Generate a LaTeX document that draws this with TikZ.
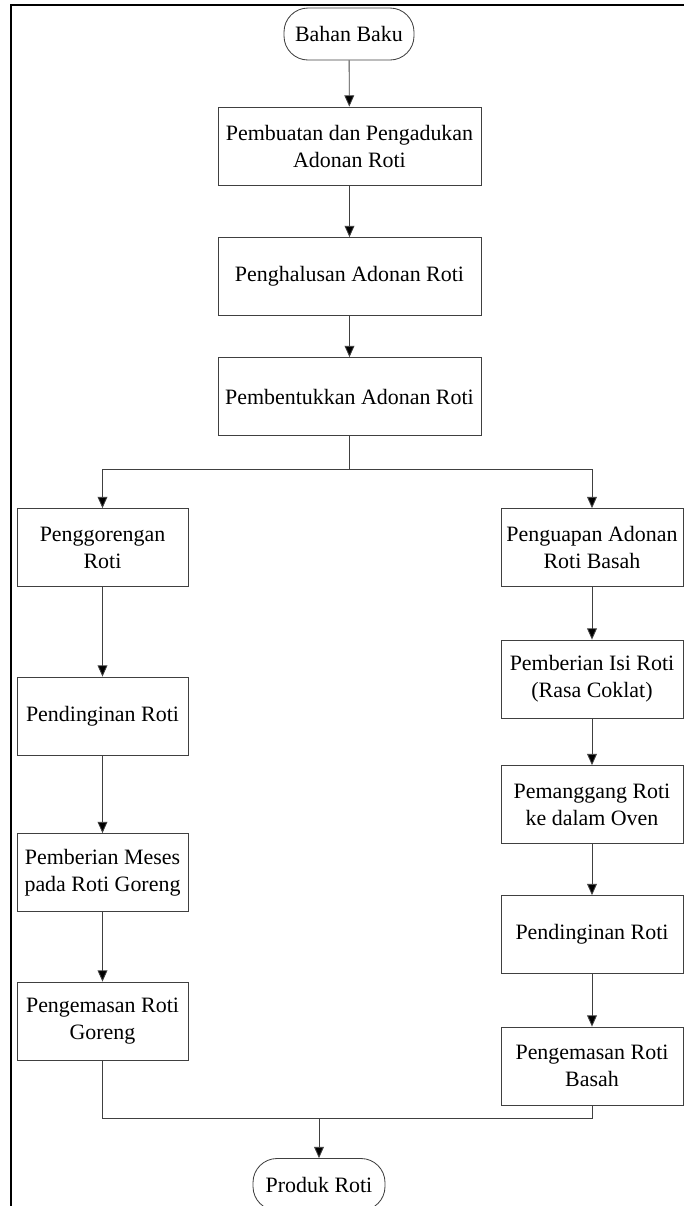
\documentclass[tikz,border=0pt]{standalone}
\usepackage{fontspec}
\setmainfont{Liberation Serif}
\usepackage{xcolor}
\usepackage{tikz}
\usetikzlibrary{arrows.meta,positioning,calc}

\begin{document}
\begin{tikzpicture}[scale=1.0,
    proses/.style={draw=black!75,line width=0.6pt,rectangle,align=center,
      inner sep=0pt,font=\fontsize{15.6}{19.2}\selectfont},
    ujung/.style={draw=black!75,line width=0.6pt,rounded corners=0.6cm,
      align=center,inner sep=0pt,minimum height=1.3cm,
      font=\fontsize{15.6}{19.2}\selectfont},
    panah/.style={draw=black!75,line width=0.6pt,
      -{Triangle[length=8pt,width=7pt,fill=black]}},
    garis/.style={draw=black!75,line width=0.6pt}]
  \useasboundingbox (0,0) rectangle (17.1,-30.15);
  \draw[line width=1.4pt] (0.275,-30.3)--(0.275,-0.125)--(17.2,-0.125);

  \node[ujung,minimum width=3.25cm] (bahan) at (8.725,-0.85) {Bahan Baku};
  \node[proses,minimum width=6.575cm,minimum height=1.95cm] (buat) at (8.7375,-3.65)
    {Pembuatan dan Pengadukan\\Adonan Roti};
  \node[proses,minimum width=6.575cm,minimum height=1.95cm] (halus) at (8.7375,-6.9125)
    {Penghalusan Adonan Roti};
  \node[proses,minimum width=6.575cm,minimum height=1.95cm] (bentuk) at (8.7375,-9.9125)
    {Pembentukkan Adonan Roti};
  \coordinate (cabang) at (8.7375,-11.725);

  \node[proses,minimum width=4.275cm,minimum height=1.95cm] (goreng) at (2.5625,-13.6875)
    {Penggorengan\\Roti};
  \node[proses,minimum width=4.275cm,minimum height=1.95cm] (dinginA) at (2.5625,-17.9)
    {Pendinginan Roti};
  \node[proses,minimum width=4.275cm,minimum height=1.95cm] (meses) at (2.5625,-21.8125)
    {Pemberian Meses\\pada Roti Goreng};
  \node[proses,minimum width=4.275cm,minimum height=1.95cm] (kemasA) at (2.5625,-25.525)
    {Pengemasan Roti\\Goreng};

  \node[proses,minimum width=4.55cm,minimum height=1.95cm] (uap) at (14.8,-13.6875)
    {Penguapan Adonan\\Roti Basah};
  \node[proses,minimum width=4.55cm,minimum height=1.95cm] (isi) at (14.8,-16.975)
    {Pemberian Isi Roti\\(Rasa Coklat)};
  \node[proses,minimum width=4.55cm,minimum height=1.95cm] (oven) at (14.8,-20.1125)
    {Pemanggang Roti\\ke dalam Oven};
  \node[proses,minimum width=4.55cm,minimum height=1.95cm] (dinginB) at (14.8,-23.3625)
    {Pendinginan Roti};
  \node[proses,minimum width=4.55cm,minimum height=1.95cm] (kemasB) at (14.8,-26.65)
    {Pengemasan Roti\\Basah};

  \coordinate (gabung) at (7.975,-27.95);
  \node[ujung,minimum width=3.3cm] (produk) at (7.975,-29.6125) {Produk Roti};

  \draw[panah] (bahan) -- (buat);
  \draw[panah] (buat) -- (halus);
  \draw[panah] (halus) -- (bentuk);
  \draw[garis] (bentuk) -- (cabang);
  \draw[panah] (cabang) -| (goreng);
  \draw[panah] (cabang) -| (uap);
  \draw[panah] (goreng) -- (dinginA);
  \draw[panah] (dinginA) -- (meses);
  \draw[panah] (meses) -- (kemasA);
  \draw[panah] (uap) -- (isi);
  \draw[panah] (isi) -- (oven);
  \draw[panah] (oven) -- (dinginB);
  \draw[panah] (dinginB) -- (kemasB);
  \draw[garis] (kemasA) |- (gabung);
  \draw[garis] (kemasB) |- (gabung);
  \draw[panah] (gabung) -- (produk);
\end{tikzpicture}
\end{document}
